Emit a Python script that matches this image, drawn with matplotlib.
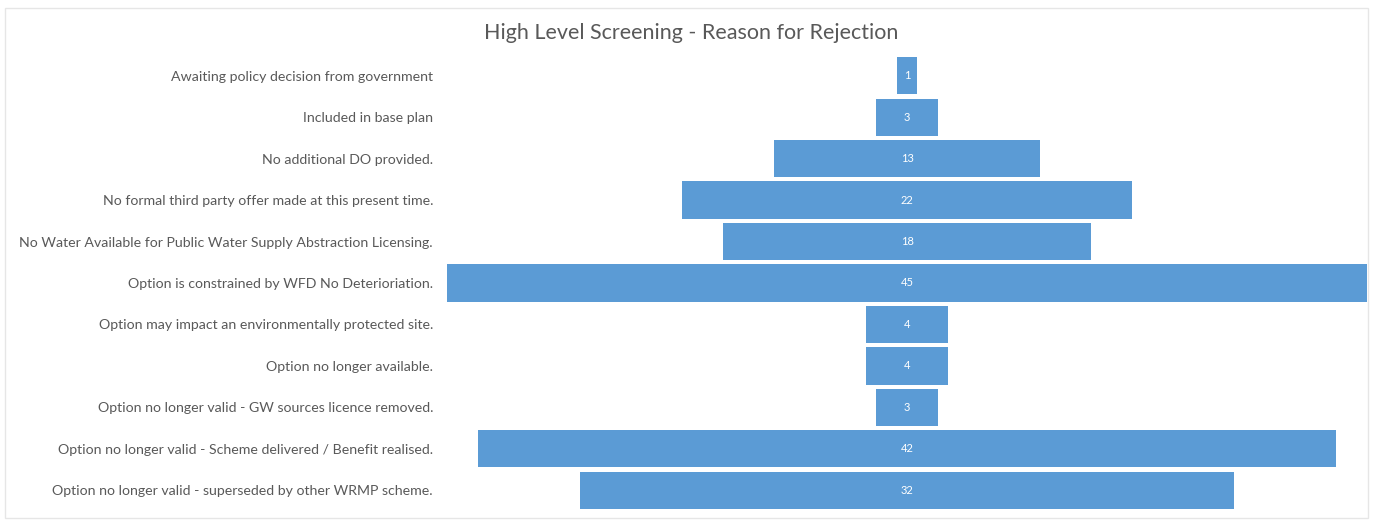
import matplotlib.pyplot as plt
from matplotlib.patches import Rectangle

# Datos del grafico
reasons = [
    "Awaiting policy decision from government",
    "Included in base plan",
    "No additional DO provided.",
    "No formal third party offer made at this present time.",
    "No Water Available for Public Water Supply Abstraction Licensing.",
    "Option is constrained by WFD No Deterioriation.",
    "Option may impact an environmentally protected site.",
    "Option no longer available.",
    "Option no longer valid - GW sources licence removed.",
    "Option no longer valid - Scheme delivered / Benefit realised.",
    "Option no longer valid - superseded by other WRMP scheme.",
]
counts = [1, 3, 13, 22, 18, 45, 4, 4, 3, 42, 32]

bar_color = "#5b9bd5"
text_color = "#595959"

plt.rcParams["font.family"] = ["Lato", "DejaVu Sans"]

fig = plt.figure(figsize=(13.73, 5.22), dpi=100)
ax = fig.add_axes([447 / 1373, 1 - 511 / 522, 920 / 1373, 456 / 522])

# Borde del area del grafico
fig.patches.append(Rectangle((5 / 1373, 1 - 518 / 522), 1363 / 1373, 510 / 522,
                             transform=fig.transFigure, fill=False,
                             edgecolor="#e6e6e6", linewidth=1))

# Barras centradas (funil)
pos = list(range(len(reasons)))
lefts = [-c / 2 for c in counts]
ax.barh(pos, counts, left=lefts, height=0.9, color=bar_color)

for y, c in zip(pos, counts):
    ax.text(0, y, str(c), ha="center", va="center", color="white", fontsize=8)

ax.set_xlim(-22.5, 22.5)
ax.set_ylim(len(reasons) - 0.5, -0.5)
ax.set_yticks(pos)
ax.set_yticklabels(reasons, fontsize=10.2, color=text_color)
ax.tick_params(axis="y", length=0, pad=10)
ax.set_xticks([])
for s in ax.spines.values():
    s.set_visible(False)

fig.text(691 / 1373, 1 - 33 / 522, "High Level Screening - Reason for Rejection",
         ha="center", va="center", fontsize=15.5, color=text_color)

fig.savefig("out.png", dpi=100)
